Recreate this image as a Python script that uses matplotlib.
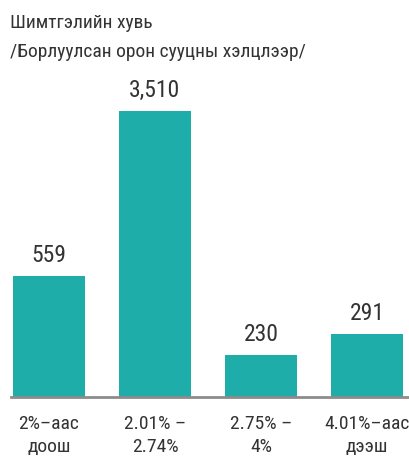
import matplotlib
matplotlib.use("Agg")
import matplotlib.pyplot as plt
import matplotlib.font_manager as fm

# Fee rate buckets vs apartments sold
categories = ["2%–аас\nдоош", "2.01% –\n2.74%", "2.75% –\n4%", "4.01%–аас\nдээш"]
values = [559, 3510, 230, 291]
value_labels = ["559", "3,510", "230", "291"]
title_lines = ["Шимтгэлийн хувь", "/Борлуулсан орон сууцны хэлцлээр/"]

BAR_COLOR = "#1fadaa"
TEXT_COLOR = "#333333"
AXIS_COLOR = "#8c8c8c"

# narrow face if there is one, the reference uses a condensed sans
installed = {f.name for f in fm.fontManager.ttflist}
fams = [f for f in ["Liberation Sans Narrow", "Roboto Condensed", "Roboto", "DejaVu Sans"] if f in installed]
plt.rcParams["font.family"] = fams

W, H = 410, 458
fig = plt.figure(figsize=(W / 100, H / 100), dpi=100)

# axes in pixel coords: left 11, right 410, bottom (baseline) 397, top 60
left, right, bottom, top = 11, 410, 397, 60
ax = fig.add_axes([left / W, 1 - bottom / H, (right - left) / W, (bottom - top) / H])

# the original bars are not linear in value; a log axis cut at `base` is close
base = 144
x = list(range(len(values)))
ax.set_yscale("log")
ax.set_ylim(base, 6210)
ax.bar(x, [v - base for v in values], width=0.68, color=BAR_COLOR, bottom=base, zorder=2)
ax.set_xlim(-0.358, 3.406)

for xi, v, lab in zip(x, values, value_labels):
    ax.annotate(lab, (xi, v), xytext=(0, 10), textcoords="offset points",
                ha="center", va="baseline", fontsize=17, color=TEXT_COLOR)

for s in ["top", "right", "left"]:
    ax.spines[s].set_visible(False)
ax.spines["bottom"].set_color(AXIS_COLOR)
ax.spines["bottom"].set_linewidth(2)
ax.yaxis.set_visible(False)
ax.set_xticks(x)
ax.set_xticklabels(categories, fontsize=14, color=TEXT_COLOR, linespacing=1.32)
ax.tick_params(axis="x", length=0, pad=13)
ax.minorticks_off()

fig.text(10 / W, 1 - 28 / H, title_lines[0], ha="left", va="baseline",
         fontsize=14, color=TEXT_COLOR)
fig.text(10 / W, 1 - 57 / H, title_lines[1], ha="left", va="baseline",
         fontsize=14, color=TEXT_COLOR)

fig.savefig("out.png", dpi=100)
